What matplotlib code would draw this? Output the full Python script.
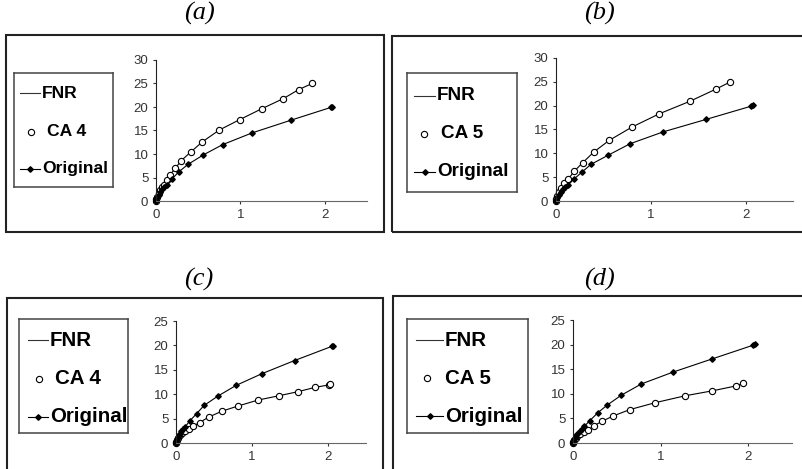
import matplotlib.pyplot as plt
from matplotlib.patches import Rectangle
from matplotlib.lines import Line2D

# ── Dados ────────────────────────────────────────────────────
orig_a_x = [0, 0.005, 0.015, 0.03, 0.05, 0.075, 0.1, 0.13, 0.19, 0.27, 0.38, 0.56, 0.79, 1.14, 1.60, 2.07, 2.09]
orig_a_y = [0, 0.3, 0.8, 1.3, 1.9, 2.5, 2.9, 3.5, 4.7, 6.2, 7.8, 9.8, 12.0, 14.5, 17.2, 19.9, 20.0]
ca4_a_x = [0, 0.005, 0.015, 0.03, 0.05, 0.07, 0.09, 0.13, 0.17, 0.23, 0.30, 0.41, 0.55, 0.75, 0.99, 1.25, 1.51, 1.69, 1.85]
ca4_a_y = [0, 0.4, 0.9, 1.6, 2.3, 2.9, 3.5, 4.5, 5.6, 7.0, 8.6, 10.4, 12.6, 15.1, 17.3, 19.6, 21.8, 23.7, 25.0]

orig_b_x = [0, 0.005, 0.015, 0.03, 0.05, 0.075, 0.1, 0.13, 0.19, 0.27, 0.37, 0.55, 0.78, 1.13, 1.58, 2.06, 2.08]
orig_b_y = [0, 0.3, 0.8, 1.3, 1.9, 2.5, 2.9, 3.4, 4.6, 6.0, 7.7, 9.6, 12.0, 14.5, 17.1, 19.9, 20.1]
ca5_b_x = [0, 0.005, 0.015, 0.03, 0.05, 0.08, 0.13, 0.19, 0.28, 0.40, 0.56, 0.80, 1.09, 1.41, 1.69, 1.84]
ca5_b_y = [0, 0.5, 1.1, 1.8, 2.7, 3.7, 4.6, 6.2, 8.0, 10.3, 12.7, 15.5, 18.3, 20.9, 23.5, 25.0]

orig_c_x = [0, 0.005, 0.015, 0.03, 0.05, 0.07, 0.09, 0.12, 0.18, 0.27, 0.37, 0.55, 0.79, 1.13, 1.56, 2.05, 2.07]
orig_c_y = [0, 0.3, 0.8, 1.3, 1.9, 2.4, 2.8, 3.3, 4.5, 6.0, 7.7, 9.6, 11.8, 14.2, 16.9, 19.8, 19.9]
ca4_c_x = [0, 0.005, 0.015, 0.03, 0.05, 0.08, 0.12, 0.17, 0.22, 0.31, 0.43, 0.60, 0.82, 1.08, 1.36, 1.60, 1.83, 2.01, 2.03]
ca4_c_y = [0, 0.3, 0.7, 1.1, 1.6, 2.0, 2.5, 2.9, 3.4, 4.2, 5.3, 6.5, 7.6, 8.8, 9.7, 10.5, 11.4, 11.9, 12.0]

orig_d_x = [0, 0.005, 0.015, 0.03, 0.05, 0.075, 0.1, 0.13, 0.19, 0.28, 0.39, 0.55, 0.78, 1.14, 1.59, 2.06, 2.08]
orig_d_y = [0, 0.3, 0.8, 1.3, 1.9, 2.5, 2.9, 3.4, 4.5, 6.1, 7.7, 9.7, 12.0, 14.4, 17.1, 19.9, 20.1]
ca5_d_x = [0, 0.005, 0.015, 0.03, 0.05, 0.08, 0.12, 0.17, 0.24, 0.33, 0.46, 0.65, 0.94, 1.28, 1.59, 1.86, 1.94]
ca5_d_y = [0, 0.3, 0.7, 1.1, 1.5, 1.9, 2.3, 2.6, 3.5, 4.4, 5.5, 6.8, 8.2, 9.6, 10.6, 11.6, 12.1]

titles = ["(a)", "(b)", "(c)", "(d)"]
ca_labels = ["CA 4", "CA 5", "CA 4", "CA 5"]
y_max = [30, 30, 25, 25]
x_ticks = [0, 1, 2]

W, H = 802, 469
fig = plt.figure(figsize=(W / 100, H / 100), dpi=100)


def px_box(l, t, r, b):
    return [l / W, 1 - b / H, (r - l) / W, (b - t) / H]


# ── Layout em pixels ──────────────────────────────────────────
frames = [(6, 35, 384, 232), (392, 36, 812, 232), (7, 298, 383, 480), (393, 296, 812, 480)]
axes_px = [(156, 60, 367, 201), (556, 58, 793, 201), (176, 321, 366, 443), (573, 320, 792, 443)]
leg_px = [(14, 73, 113, 187), (407, 73, 517, 192), (19, 319, 128, 433), (407, 319, 528, 433)]
# (x0 linha, x1 linha, x texto, x círculo, x texto CA, y1, y2, y3) relativos à caixa
leg_items = [(6, 26, 28, 17, 33, 20, 59, 96),
             (7, 28, 30, 17, 34, 23, 61, 99),
             (9, 29, 31, 20, 36, 21, 60, 98),
             (9, 36, 38, 20, 38, 21, 59, 97)]
leg_fs = [12.6, 13.6, 14.8, 14.8]
title_pos = [(199, 13), (599, 13), (199, 279), (599, 279)]

data = [(orig_a_x, orig_a_y, ca4_a_x, ca4_a_y),
        (orig_b_x, orig_b_y, ca5_b_x, ca5_b_y),
        (orig_c_x, orig_c_y, ca4_c_x, ca4_c_y),
        (orig_d_x, orig_d_y, ca5_d_x, ca5_d_y)]

for i in range(4):
    l, t, r, b = frames[i]
    fig.patches.append(Rectangle((l / W, 1 - b / H), (r - l) / W, (b - t) / H,
                                 transform=fig.transFigure, fill=False,
                                 edgecolor="#222222", linewidth=1.5))
    tx, ty = title_pos[i]
    fig.text(tx / W, 1 - ty / H, titles[i], ha="center", va="center",
             family="Liberation Serif", style="italic", fontsize=19)

    # ── Gráfico ──────────────────────────────────────────────
    ox, oy, cx, cy = data[i]
    ax = fig.add_axes(px_box(*axes_px[i]))
    ax.plot(cx, cy, color="black", linewidth=0.8)
    ax.plot(cx, cy, linestyle="none", marker="o", markersize=4.5,
            markerfacecolor="white", markeredgecolor="black", markeredgewidth=0.8)
    ax.plot(ox, oy, color="black", linewidth=0.8, marker="D", markersize=2.8)
    ax.set_xlim(0, 2.5)
    ax.set_ylim(0, y_max[i])
    ax.set_xticks(x_ticks)
    ax.set_yticks(range(0, y_max[i] + 1, 5))
    ax.spines["top"].set_visible(False)
    ax.spines["right"].set_visible(False)
    ax.spines["left"].set_color("#222222")
    ax.spines["bottom"].set_color("#666666")
    ax.tick_params(labelsize=9.5, labelcolor="#333333", length=2.5, width=0.8,
                   color="#333333", pad=3)
    for lab in ax.get_xticklabels() + ax.get_yticklabels():
        lab.set_family("Liberation Sans")
    for ln in ax.lines:
        ln.set_clip_on(False)

    # ── Legenda desenhada à mão ──────────────────────────────
    ll, lt, lr, lb = leg_px[i]
    bw, bh = lr - ll, lb - lt
    lg = fig.add_axes(px_box(ll, lt, lr, lb))
    lg.set_xlim(0, bw)
    lg.set_ylim(bh, 0)
    lg.set_xticks([])
    lg.set_yticks([])
    for s in lg.spines.values():
        s.set_color("#444444")
        s.set_linewidth(1.1)
    x0, x1, xt, xc, xtc, y1, y2, y3 = leg_items[i]
    fs = leg_fs[i]
    lg.add_line(Line2D([x0, x1], [y1, y1], color="#333333", linewidth=0.8))
    lg.text(xt, y1, "FNR", va="center", ha="left", fontsize=fs,
            fontweight="bold", family="Liberation Sans")
    lg.plot([xc], [y2], marker="o", markersize=4.5, markerfacecolor="white",
            markeredgecolor="black", markeredgewidth=0.8)
    lg.text(xtc, y2, ca_labels[i], va="center", ha="left", fontsize=fs,
            fontweight="bold", family="Liberation Sans")
    lg.plot([x0, x1], [y3, y3], color="black", linewidth=0.8)
    lg.plot([(x0 + x1) / 2], [y3], marker="D", markersize=2.8, color="black")
    lg.text(xt, y3, "Original", va="center", ha="left", fontsize=fs,
            fontweight="bold", family="Liberation Sans")

plt.savefig("out.png", dpi=100)
